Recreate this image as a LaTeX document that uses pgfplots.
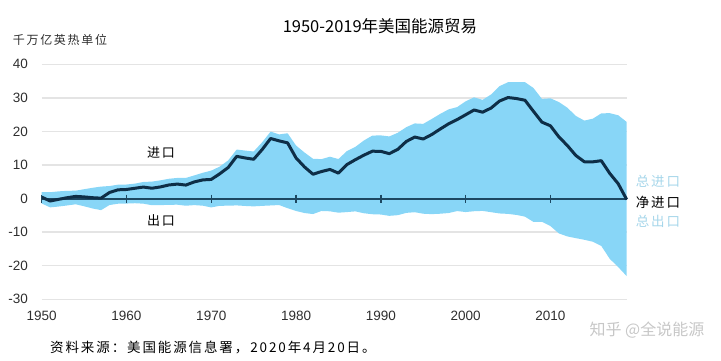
\documentclass[border=0pt]{standalone}
\usepackage{pgfplots}
\pgfplotsset{compat=1.18}
\usepackage{pgfplotstable}
\usepackage{fontspec}
\setmainfont{Liberation Sans}
\newfontfamily\cjk{Noto Sans CJK SC}
\newfontfamily\cjkspaced[LetterSpace=14]{Noto Sans CJK SC}
\definecolor{fillblue}{HTML}{88D6F7}
\definecolor{navy}{HTML}{0E2E47}
\definecolor{zeroline}{HTML}{1D4862}
\definecolor{gridgray}{HTML}{E4E4E4}
\definecolor{labelgray}{HTML}{2E2E2E}
\definecolor{paleblue}{HTML}{A6D6EA}

\pgfplotstableread{
year imp exp negexp net
1950 1.91 1.47 -1.47 0.44
1951 1.89 2.62 -2.62 -0.73
1952 2.15 2.37 -2.37 -0.22
1953 2.31 2.05 -2.05 0.26
1954 2.35 1.70 -1.70 0.65
1955 2.79 2.29 -2.29 0.50
1956 3.21 2.95 -2.95 0.26
1957 3.57 3.44 -3.44 0.13
1958 3.74 1.92 -1.92 1.82
1959 4.14 1.53 -1.53 2.61
1960 4.19 1.48 -1.48 2.71
1961 4.46 1.38 -1.38 3.08
1962 4.95 1.52 -1.52 3.43
1963 5.06 1.98 -1.98 3.08
1964 5.43 1.96 -1.96 3.47
1965 5.90 1.85 -1.85 4.05
1966 6.15 1.83 -1.83 4.32
1967 6.15 2.13 -2.13 4.02
1968 6.91 1.94 -1.94 4.97
1969 7.68 2.12 -2.12 5.56
1970 8.34 2.63 -2.63 5.71
1971 9.53 2.15 -2.15 7.38
1972 11.39 2.12 -2.12 9.27
1973 14.61 2.03 -2.03 12.58
1974 14.30 2.20 -2.20 12.10
1975 14.03 2.32 -2.32 11.71
1976 16.76 2.17 -2.17 14.59
1977 19.95 2.05 -2.05 17.90
1978 19.11 1.92 -1.92 17.19
1979 19.46 2.86 -2.86 16.60
1980 15.80 3.69 -3.69 12.11
1981 13.72 4.30 -4.30 9.42
1982 11.86 4.61 -4.61 7.25
1983 11.75 3.69 -3.69 8.06
1984 12.47 3.79 -3.79 8.68
1985 11.78 4.20 -4.20 7.58
1986 14.15 4.02 -4.02 10.13
1987 15.40 3.81 -3.81 11.59
1988 17.30 4.37 -4.37 12.93
1989 18.77 4.66 -4.66 14.11
1990 18.82 4.75 -4.75 14.07
1991 18.52 5.14 -5.14 13.38
1992 19.60 4.94 -4.94 14.66
1993 21.27 4.26 -4.26 17.01
1994 22.39 4.06 -4.06 18.33
1995 22.26 4.51 -4.51 17.75
1996 23.70 4.63 -4.63 19.07
1997 25.22 4.51 -4.51 20.71
1998 26.58 4.30 -4.30 22.28
1999 27.25 3.72 -3.72 23.53
2000 28.97 4.01 -4.01 24.96
2001 30.16 3.77 -3.77 26.39
2002 29.41 3.67 -3.67 25.74
2003 31.01 4.05 -4.05 26.96
2004 33.49 4.43 -4.43 29.06
2005 34.66 4.56 -4.56 30.10
2006 34.67 4.87 -4.87 29.80
2007 34.68 5.38 -5.38 29.30
2008 32.95 6.95 -6.95 26.00
2009 29.69 6.92 -6.92 22.77
2010 29.87 8.18 -8.18 21.69
2011 28.75 10.37 -10.37 18.38
2012 27.07 11.27 -11.27 15.80
2013 24.62 11.78 -11.78 12.84
2014 23.24 12.27 -12.27 10.97
2015 23.79 12.85 -12.85 10.94
2016 25.38 14.09 -14.09 11.29
2017 25.45 17.94 -17.94 7.51
2018 24.82 20.40 -20.40 4.42
2019 22.82 23.10 -23.10 -0.28
}\energy

\begin{document}
\begin{tikzpicture}
\useasboundingbox (0,0) rectangle (721pt,361pt);
\begin{axis}[
  at={(41.7pt,61.7pt)}, anchor=south west,
  scale only axis, width=585pt, height=235pt,
  xmin=1950, xmax=2019, ymin=-30, ymax=40,
  xtick={1950,1960,1970,1980,1990,2000,2010},
  xticklabels={1950,1960,1970,1980,1990,2000,2010},
  ytick={-30,-20,-10,0,10,20,30,40},
  yticklabels={-30,-20,-10,0,10,20,30,40},
  axis line style={draw=none},
  major tick length=0pt,
  ymajorgrids, grid style={gridgray, line width=1.5pt},
  tick label style={font=\fontsize{13.5}{16}\selectfont, text=labelgray, inner sep=0pt},
  yticklabel style={anchor=east, xshift=-13.5pt},
  xticklabel style={anchor=north, yshift=-11.4pt},
  clip=false,
]
\addplot[draw=none, fill=fillblue] table[x=year, y=imp] {\energy} \closedcycle;
\addplot[draw=none, fill=fillblue] table[x=year, y=negexp] {\energy} \closedcycle;
\addplot[zeroline, line width=2pt] coordinates {(1950,0) (2019,0)};
\addplot[zeroline, only marks, mark=|, mark size=4pt, mark options={line width=1.4pt}]
  coordinates {(1950,0) (1960,0) (1970,0) (1980,0) (1990,0) (2000,0) (2010,0)};
\addplot[navy, line width=3pt, line join=round] table[x=year, y=net] {\energy};
\end{axis}
\node[font=\cjk\fontsize{16.5}{20}\selectfont, text=black] at (380pt,335pt) {1950-2019年美国能源贸易};
\node[font=\cjkspaced\fontsize{12}{15}\selectfont, text=labelgray] at (60pt,321pt) {千万亿英热单位};
\node[font=\cjkspaced\fontsize{13}{16}\selectfont] at (161pt,208.5pt) {进口};
\node[font=\cjkspaced\fontsize{13}{16}\selectfont] at (161pt,140pt) {出口};
\node[font=\cjkspaced\fontsize{13.5}{16}\selectfont, text=paleblue] at (658pt,180pt) {总进口};
\node[font=\cjkspaced\fontsize{13.5}{16}\selectfont, text=black] at (658pt,158.5pt) {净进口};
\node[font=\cjkspaced\fontsize{13.5}{16}\selectfont, text=paleblue] at (658pt,140pt) {总出口};
\node[font=\cjkspaced\fontsize{13.5}{17}\selectfont, anchor=west, inner sep=0pt] at (50pt,14pt) {资料来源：美国能源信息署，2020年4月20日。};
\node[font=\cjk\fontsize{16}{18}\selectfont, text=black!22] at (647pt,31pt) {知乎 @全说能源};
\end{tikzpicture}
\end{document}
